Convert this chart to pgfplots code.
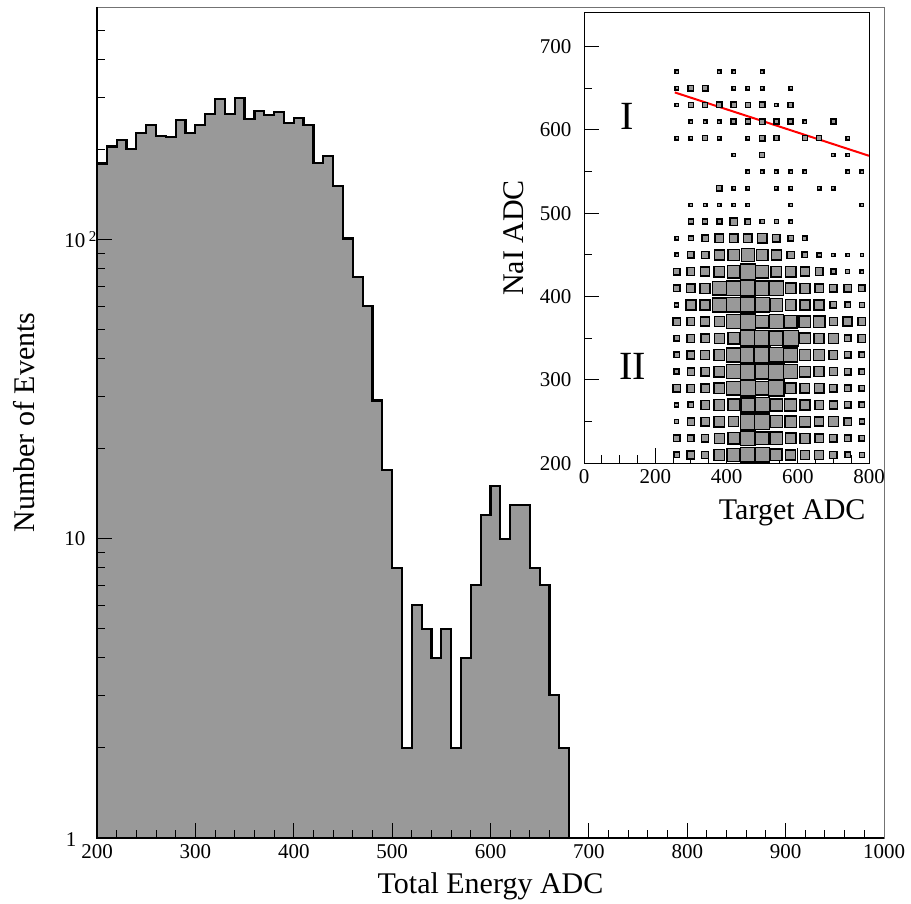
\documentclass[border=0pt]{standalone}
\usepackage{pgfplots}
\pgfplotsset{compat=1.18}
\usepackage{pgfplotstable}
\usepackage{fontspec}
\setmainfont{Liberation Serif}

\definecolor{histgray}{gray}{0.6}
\definecolor{framegray}{gray}{0.45}

% Total energy spectrum, 10-ADC bins (lower edge, counts);
% first and last rows close the outline down to the floor of the log axis
\pgfplotstableread{
x y
200 1
200 180
210 205
220 216
230 201
240 228
250 242
260 222
270 221
280 251
290 228
300 242
310 263
320 296
330 263
340 298
350 254
360 269
370 261
380 267
390 246
400 256
410 242
420 181
430 191
440 151
450 101
460 75
470 60
480 29
490 17
500 8
510 2
520 6
530 5
540 4
550 5
560 2
570 4
580 7
590 12
600 15
610 10
620 13
630 13
640 8
650 7
660 3
670 2
680 2
680 1
}\energy

% NaI vs target correlation: cell centre (x, y) and box side s (pt)
\pgfplotstableread{
x y s
260 670 3.3
380 670 3.3
420 670 3.3
500 670 3.3
260 650 3.3
300 650 5.3
340 650 5.3
420 650 3.3
460 650 3.3
500 650 3.3
580 650 3.3
260 630 3.3
300 630 4.7
340 630 4.7
380 630 5.3
420 630 5.3
460 630 4.7
500 630 5.3
540 630 3.3
580 630 4.7
300 610 3.3
340 610 3.3
380 610 3.3
420 610 4.7
460 610 4.7
500 610 5.3
540 610 4.7
580 610 4.7
620 610 3.3
700 610 4.7
260 590 3.3
300 590 3.3
340 590 4.7
380 590 3.3
460 590 3.3
500 590 5.3
540 590 4.7
620 590 4.7
660 590 4.7
740 590 3.3
420 570 3.3
500 570 4.7
700 570 3.3
740 570 3.3
460 550 3.3
500 550 3.3
540 550 3.3
580 550 3.3
620 550 3.3
740 550 3.3
780 550 3.3
380 530 5.3
420 530 3.3
460 530 3.3
540 530 3.3
580 530 3.3
660 530 3.3
700 530 3.3
300 510 3.3
340 510 3.3
380 510 3.3
420 510 3.3
460 510 3.3
580 510 3.3
780 510 3.3
300 490 4.7
340 490 4.7
380 490 4.7
420 490 6.7
460 490 5.3
500 490 4.0
540 490 4.0
580 490 3.3
260 470 3.3
300 470 4.7
340 470 6.0
380 470 8.0
420 470 8.0
460 470 8.0
500 470 8.7
540 470 6.7
580 470 5.3
620 470 4.0
260 450 3.5
300 450 6.0
340 450 7.0
380 450 9.0
420 450 10.5
460 450 12.0
500 450 10.5
540 450 9.0
580 450 7.0
620 450 5.3
660 450 4.0
700 450 3.3
740 450 3.3
780 450 3.0
260 430 6.0
300 430 7.3
340 430 8.3
380 430 10.0
420 430 11.7
460 430 14.0
500 430 11.7
540 430 10.0
580 430 10.0
620 430 8.3
660 430 7.3
700 430 4.7
740 430 4.0
780 430 3.3
260 410 6.0
300 410 8.0
340 410 9.3
380 410 12.7
420 410 13.3
460 410 14.0
500 410 13.3
540 410 13.3
580 410 10.0
620 410 9.3
660 410 8.0
700 410 6.7
740 410 6.7
780 410 6.0
260 390 4.0
300 390 9.3
340 390 9.3
380 390 12.7
420 390 13.3
460 390 13.3
500 390 13.3
540 390 11.7
580 390 10.0
620 390 9.3
660 390 9.3
700 390 6.0
740 390 5.3
780 390 4.7
260 370 6.7
300 370 7.3
340 370 8.3
380 370 9.3
420 370 12.7
460 370 14.0
500 370 11.7
540 370 12.7
580 370 11.7
620 370 10.7
660 370 10.7
700 370 7.3
740 370 8.3
780 370 7.3
260 350 5.3
300 350 7.3
340 350 8.0
380 350 9.3
420 350 10.7
460 350 14.0
500 350 14.0
540 350 13.3
580 350 14.0
620 350 10.0
660 350 9.3
700 350 9.3
740 350 6.0
780 350 7.3
260 330 5.3
300 330 7.3
340 330 8.3
380 330 10.0
420 330 12.7
460 330 14.0
500 330 15.0
540 330 13.3
580 330 12.7
620 330 10.0
660 330 10.0
700 330 8.0
740 330 6.0
780 330 5.3
260 310 4.7
300 310 6.7
340 310 8.0
380 310 10.0
420 310 12.7
460 310 14.0
500 310 13.3
540 310 14.0
580 310 12.7
620 310 10.0
660 310 9.3
700 310 7.3
740 310 6.0
780 310 5.3
260 290 6.7
300 290 7.3
340 290 8.0
380 290 10.0
420 290 12.7
460 290 14.0
500 290 12.7
540 290 14.0
580 290 10.0
620 290 8.7
660 290 8.7
700 290 6.7
740 290 6.0
780 290 5.3
260 270 4.0
300 270 5.3
340 270 8.0
380 270 10.0
420 270 10.7
460 270 12.7
500 270 13.3
540 270 11.3
580 270 11.3
620 270 9.3
660 270 8.0
700 270 7.3
740 270 6.0
780 270 5.3
260 250 4.0
300 250 6.7
340 250 8.0
380 250 10.0
420 250 9.3
460 250 14.0
500 250 14.0
540 250 11.3
580 250 10.7
620 250 10.0
660 250 8.3
700 250 9.3
740 250 6.7
780 250 4.7
260 230 6.0
300 230 6.0
340 230 6.7
380 230 9.3
420 230 10.7
460 230 13.3
500 230 11.7
540 230 11.7
580 230 10.0
620 230 9.3
660 230 8.0
700 230 6.7
740 230 6.0
780 230 5.3
260 210 5.3
300 210 7.3
340 210 6.7
380 210 10.0
420 210 11.7
460 210 13.3
500 210 13.3
540 210 10.7
580 210 9.3
620 210 8.3
660 210 8.3
700 210 6.7
740 210 5.3
780 210 4.7
}\boxes

\pgfplotsset{
  every axis label/.append style={font=\fontsize{30}{34}\selectfont},
  /pgf/number format/assume math mode=true,
  /pgf/number format/set thousands separator={},
}

\begin{document}
\begin{tikzpicture}
\useasboundingbox (0pt,0pt) rectangle (911pt,903pt);

% ---- main spectrum ----
\begin{axis}[
  at={(97pt,65pt)}, anchor=south west,
  scale only axis, width=787pt, height=831pt,
  xmin=200, xmax=1000, ymin=1, ymax=600, ymode=log,
  axis on top,
  axis line style={draw=framegray, line width=0.8pt},
  tick label style={font=\fontsize{21}{24}\selectfont},
  xtick={200,300,...,1000}, minor x tick num=4,
  ytick={1,10,100},
  yticklabels={\raisebox{-8pt}[0pt][0pt]{1}\kern9pt,10,10\rlap{\,\raisebox{0.55ex}{\fontsize{15}{15}\selectfont 2}}},
  minor ytick={2,3,4,5,6,7,8,9,20,30,40,50,60,70,80,90,200,300,400,500},
  tick align=inside, tick pos=left,
  major tick length=15pt, minor tick length=8pt,
  tick style={black, line width=1pt},
  xticklabel style={yshift=-3pt},
  yticklabel style={xshift=-8pt},
  xlabel={Total Energy ADC},
  xlabel style={at={(axis description cs:0.5,-0.0662)}, anchor=base},
  ylabel={Number of Events},
  ylabel style={at={(axis description cs:-0.0788,0.5)}, anchor=base},
  after end axis/.code={
    \draw[black, line width=2pt] (rel axis cs:0,1) -- (rel axis cs:0,0) -- (rel axis cs:1,0);
  },
]
\addplot[const plot, fill=histgray, draw=black, line width=2.2pt, line join=miter]
  table[x=x, y=y] {\energy};
\end{axis}

% ---- inset: NaI ADC vs target ADC ----
\begin{axis}[
  at={(584pt,439.7pt)}, anchor=south west,
  scale only axis, width=285pt, height=450.6pt,
  xmin=0, xmax=800, ymin=200, ymax=740.7,
  axis on top,
  axis background/.style={fill=white},
  axis line style={black, line width=1pt},
  tick label style={font=\fontsize{21}{24}\selectfont},
  xtick={0,200,...,800}, minor x tick num=3,
  ytick={200,300,...,700}, minor y tick num=1,
  tick align=inside, tick pos=left,
  major tick length=15pt, minor tick length=8pt,
  tick style={black, line width=1pt},
  xticklabel style={yshift=-3pt},
  yticklabel style={xshift=-9pt},
  xlabel={Target ADC},
  xlabel style={at={(axis description cs:1,-0.1258)}, anchor=base east},
  ylabel={NaI ADC},
  ylabel style={at={(axis description cs:-0.214,0.5)}, anchor=base},
  clip=true,
]
\addplot[scatter, only marks, mark=square*,
  scatter/use mapped color={draw=black, fill=histgray},
  mark options={line width=1.4pt},
  visualization depends on={0.55*\thisrow{s}-0.1 \as \halfside},
  scatter/@pre marker code/.append style={/tikz/mark size=\halfside pt}]
  table[x=x, y=y] {\boxes};
\addplot[red, line width=2pt] coordinates {(255,645) (800,569)};
\node[font=\fontsize{40}{40}\selectfont] at (axis cs:120,616) {I};
\node[font=\fontsize{40}{40}\selectfont] at (axis cs:136,316) {II};
\end{axis}
\end{tikzpicture}
\end{document}
